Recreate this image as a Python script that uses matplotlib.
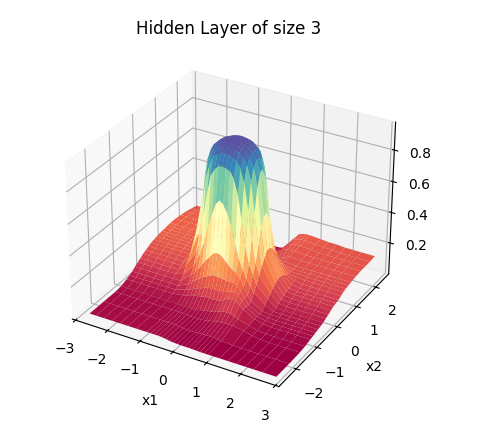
import numpy as np
import matplotlib
matplotlib.use("Agg")
import matplotlib.pyplot as plt

x1_left = [-2.7, -2.5, -2.25, -2.0, -1.75, -1.5, -1.25]
x1_mid = [-0.93, -0.81, -0.7, -0.58, -0.47, -0.35, -0.24, -0.12, -0.01,
          0.11, 0.22, 0.34, 0.45, 0.57, 0.68, 0.8, 0.91]
x1_right = [1.25, 1.5, 1.75, 2.0, 2.25, 2.5, 2.9]
x1_values = x1_left + x1_mid + x1_right
x2_values = [-2.6, -2.0, -1.5, -1.25, -1.0, -0.875, -0.75, -0.625, -0.5, -0.375, -0.25, -0.125, 0.0,
             0.125, 0.25, 0.375, 0.5, 0.625, 0.75, 0.875, 1.0, 1.25, 1.5, 1.75, 2.0, 2.25]

# one row per x2 value: left part, middle part, right part of x1
output = [
    [.03] * 7 + [.03, .03, .03, .03, .028, .025, .02, .018, .016, .015, .015, .015, .014, .013, .012, .012, .012] + [.012] * 7,
    [.03] * 7 + [.03, .03, .03, .03, .028, .026, .022, .02, .02, .02, .022, .024, .025, .025, .024, .02, .018] + [.014, .012, .012, .012, .012, .012, .012],
    [.03] * 7 + [.03, .03, .03, .03, .028, .026, .024, .024, .025, .03, .035, .04, .045, .05, .05, .05, .05] + [.04, .025, .018, .015, .015, .015, .015],
    [.035] * 7 + [.035, .035, .035, .033, .033, .035, .04, .045, .05, .055, .06, .07, .08, .08, .08, .07, .06] + [.04, .025, .02, .02, .02, .02, .02],
    [.05] * 7 + [.06, .065, .07, .08, .085, .09, .095, .095, .095, .095, .10, .115, .13, .135, .13, .11, .09] + [.05, .035, .03, .03, .03, .03, .03],
    [.06] * 7 + [.08, .09, .10, .11, .12, .13, .14, .14, .14, .14, .14, .15, .16, .165, .15, .12, .09] + [.05, .04, .035, .035, .035, .035, .035],
    [.07] * 7 + [.10, .12, .145, .16, .18, .19, .205, .21, .205, .205, .20, .20, .20, .19, .16, .12, .085] + [.05, .04, .04, .04, .04, .04, .04],
    [.085] * 7 + [.145, .17, .20, .235, .27, .30, .33, .34, .335, .31, .285, .26, .25, .22, .17, .125, .09] + [.05, .045, .045, .045, .045, .045, .045],
    [.10] * 6 + [.115] + [.19, .24, .30, .38, .48, .56, .63, .66, .64, .59, .52, .42, .33, .26, .21, .165, .135] + [.075, .05, .05, .05, .05, .05, .05],
    [.112] * 6 + [.16] + [.26, .35, .50, .66, .78, .825, .85, .855, .85, .84, .80, .71, .56, .40, .29, .225, .17] + [.10, .055, .055, .055, .055, .055, .055],
    [.125] * 6 + [.19] + [.36, .54, .74, .835, .885, .90, .915, .92, .915, .905, .895, .855, .77, .61, .43, .29, .215] + [.12, .07, .065, .065, .065, .065, .065],
    [.135] * 6 + [.23] + [.50, .73, .85, .895, .92, .935, .94, .945, .94, .935, .93, .905, .87, .77, .59, .375, .26] + [.14, .08, .075, .075, .075, .075, .075],
    [.145] * 6 + [.26] + [.62, .82, .89, .92, .94, .95, .952, .953, .953, .95, .945, .93, .90, .85, .73, .48, .30] + [.155, .09, .085, .085, .085, .085, .085],
    [.155] * 6 + [.29] + [.70, .85, .905, .93, .947, .952, .955, .955, .955, .953, .95, .94, .92, .88, .81, .54, .33] + [.17, .10, .095, .095, .095, .095, .095],
    [.16] * 6 + [.29] + [.71, .85, .905, .93, .948, .952, .955, .955, .955, .953, .95, .94, .92, .88, .815, .55, .33] + [.17, .105, .10, .10, .10, .10, .10],
    [.165] * 6 + [.265] + [.65, .83, .895, .925, .94, .95, .953, .954, .953, .95, .948, .932, .91, .86, .75, .50, .31] + [.16, .115, .105, .105, .105, .105, .105],
    [.17] * 6 + [.235] + [.53, .76, .865, .90, .925, .94, .945, .948, .945, .94, .932, .91, .885, .80, .62, .40, .27] + [.145, .125, .115, .115, .115, .115, .115],
    [.172] * 6 + [.20] + [.385, .58, .78, .85, .89, .91, .92, .925, .92, .915, .90, .875, .81, .67, .46, .30, .225] + [.135, .13, .125, .125, .125, .125, .125],
    [.175] * 6 + [.18] + [.285, .385, .55, .71, .80, .85, .875, .88, .88, .86, .83, .76, .62, .44, .31, .235, .18] + [.135, .135, .13, .13, .13, .13, .13],
    [.178] * 7 + [.21, .26, .33, .43, .54, .62, .70, .72, .71, .665, .58, .47, .365, .28, .225, .18, .15] + [.135, .135, .135, .135, .135, .135, .135],
    [.18] * 7 + [.18, .185, .22, .26, .30, .335, .37, .385, .38, .35, .31, .275, .235, .20, .165, .15, .15] + [.14, .14, .14, .14, .14, .14, .14],
    [.18] * 7 + [.18, .17, .165, .16, .15, .15, .155, .16, .16, .155, .15, .14, .13, .125, .13, .14, .15] + [.145, .145, .145, .145, .145, .145, .145],
    [.175] * 7 + [.175, .17, .155, .14, .12, .10, .085, .08, .08, .085, .10, .12, .135, .145, .15, .155, .155] + [.15, .15, .15, .15, .15, .15, .15],
    [.17] * 7 + [.165, .155, .14, .12, .095, .075, .06, .055, .055, .06, .08, .105, .13, .15, .155, .16, .16] + [.155, .15, .15, .15, .15, .15, .15],
    [.16] * 7 + [.155, .14, .12, .095, .07, .05, .04, .035, .035, .04, .055, .09, .125, .15, .16, .165, .165] + [.16, .155, .155, .15, .15, .15, .15],
    [.15] * 7 + [.14, .12, .095, .07, .05, .035, .03, .028, .03, .035, .05, .085, .125, .155, .165, .17, .17] + [.165, .16, .16, .155, .155, .155, .155],
]

x1_grid, x2_grid = np.meshgrid(x1_values, x2_values)
z_grid = np.array(output)

fig = plt.figure(figsize=(4.79, 4.43), dpi=100)
ax = fig.add_subplot(projection="3d")
ax.set_position([0.077, 0.075, 0.80, 0.83])
ax.plot_surface(x1_grid, x2_grid, z_grid, cmap="Spectral", rstride=1, cstride=1)

ax.set_xlim(-3.1, 3.1)
ax.set_ylim(-2.8, 2.7)
ax.set_xticks([-3, -2, -1, 0, 1, 2, 3])
ax.set_yticks([-2, -1, 0, 1, 2])
ax.set_zticks([0.2, 0.4, 0.6, 0.8])
ax.set_xlabel("x1")
ax.set_ylabel("x2")
ax.set_title("Hidden Layer of size 3", fontsize=12)

plt.savefig("out.png")
